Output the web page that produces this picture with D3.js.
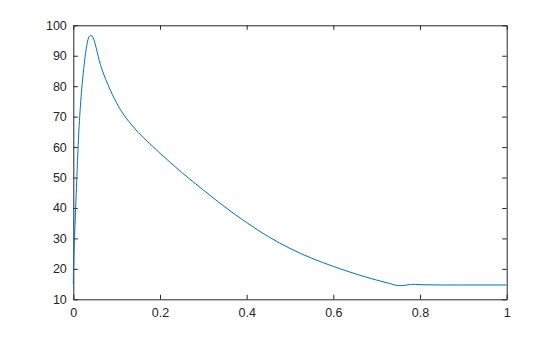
<!DOCTYPE html>
<html>
<head>
<meta charset="utf-8">
<script src="https://cdn.jsdelivr.net/npm/d3@7"></script>
<style>
  html, body { margin: 0; padding: 0; background: #fff; }
  svg { display: block; }
  text { font-family: "Liberation Sans", Arial, Helvetica, sans-serif; }
</style>
</head>
<body>
<svg id="chart" width="560" height="337"></svg>
<script>
// Data
const xValues = [0, 0.001, 0.003, 0.006, 0.009, 0.012, 0.015, 0.018, 0.021, 0.025, 0.029, 0.033, 0.037, 0.04,
  0.043, 0.047, 0.051, 0.055, 0.06, 0.065, 0.07, 0.08, 0.09, 0.1, 0.11, 0.12, 0.135, 0.15, 0.175, 0.2,
  0.225, 0.25, 0.3, 0.35, 0.4, 0.45, 0.5, 0.55, 0.6, 0.65, 0.7, 0.73, 0.75, 0.76, 0.77, 0.78, 0.79, 0.8, 0.85, 0.9, 1.0];
const yValues = [15, 22, 31, 42, 53, 63, 70.5, 76.5, 81.5, 87, 91.5, 94.8, 96.4, 96.7,
  96.5, 95.5, 93.6, 91.3, 88.4, 86.0, 84.0, 80.5, 77.3, 74.5, 72.0, 69.9, 67.2, 64.8, 61.3, 58.0,
  54.8, 51.7, 45.9, 40.3, 35.2, 30.6, 26.7, 23.5, 20.8, 18.4, 16.3, 15.2, 14.5, 14.5, 14.7, 14.9, 14.9, 14.8, 14.7, 14.7, 14.7];
const xTicks = [0, 0.2, 0.4, 0.6, 0.8, 1];
const xTickLabels = ["0", "0.2", "0.4", "0.6", "0.8", "1"];
const yTicks = [10, 20, 30, 40, 50, 60, 70, 80, 90, 100];
const yTickLabels = ["10", "20", "30", "40", "50", "60", "70", "80", "90", "100"];

(function () {
  const points = xValues.map((x, i) => ({ x, y: yValues[i] }));

  const svg = d3.select("#chart");
  const mLeft = 73.3, mRight = 506.7, mTop = 25.3, mBottom = 299.3;
  const axisColor = "#262626";

  const x = d3.scaleLinear().domain([0, 1]).range([mLeft, mRight]);
  const y = d3.scaleLinear().domain([10, 100]).range([mBottom, mTop]);

  const tickLen = 4.5;

  const gx = svg.append("g").attr("transform", `translate(0,${mBottom})`)
    .call(d3.axisBottom(x).tickValues(xTicks).tickFormat((d, i) => xTickLabels[i])
      .tickSizeInner(-tickLen).tickSizeOuter(0).tickPadding(9));
  const gxt = svg.append("g").attr("transform", `translate(0,${mTop})`)
    .call(d3.axisTop(x).tickValues(xTicks).tickFormat("")
      .tickSizeInner(-tickLen).tickSizeOuter(0));
  const gy = svg.append("g").attr("transform", `translate(${mLeft},0)`)
    .call(d3.axisLeft(y).tickValues(yTicks).tickFormat((d, i) => yTickLabels[i])
      .tickSizeInner(-tickLen).tickSizeOuter(0).tickPadding(6.5));
  const gyr = svg.append("g").attr("transform", `translate(${mRight},0)`)
    .call(d3.axisRight(y).tickValues(yTicks).tickFormat("")
      .tickSizeInner(-tickLen).tickSizeOuter(0));

  [gx, gxt, gy, gyr].forEach(g => {
    g.selectAll("path").attr("stroke", axisColor).attr("stroke-width", 1);
    g.selectAll("line").attr("stroke", axisColor).attr("stroke-width", 1);
    g.selectAll("text").attr("fill", axisColor).style("font-size", "12.5px")
      .style("font-family", "'Liberation Sans', Arial, Helvetica, sans-serif");
  });

  const line = d3.line().x(d => x(d.x)).y(d => y(d.y)).curve(d3.curveMonotoneX);
  svg.append("path").datum(points)
    .attr("d", line)
    .attr("fill", "none")
    .attr("stroke", "#0072BD")
    .attr("stroke-width", 1)
    .attr("stroke-linejoin", "round");
})();
</script>
</body>
</html>
